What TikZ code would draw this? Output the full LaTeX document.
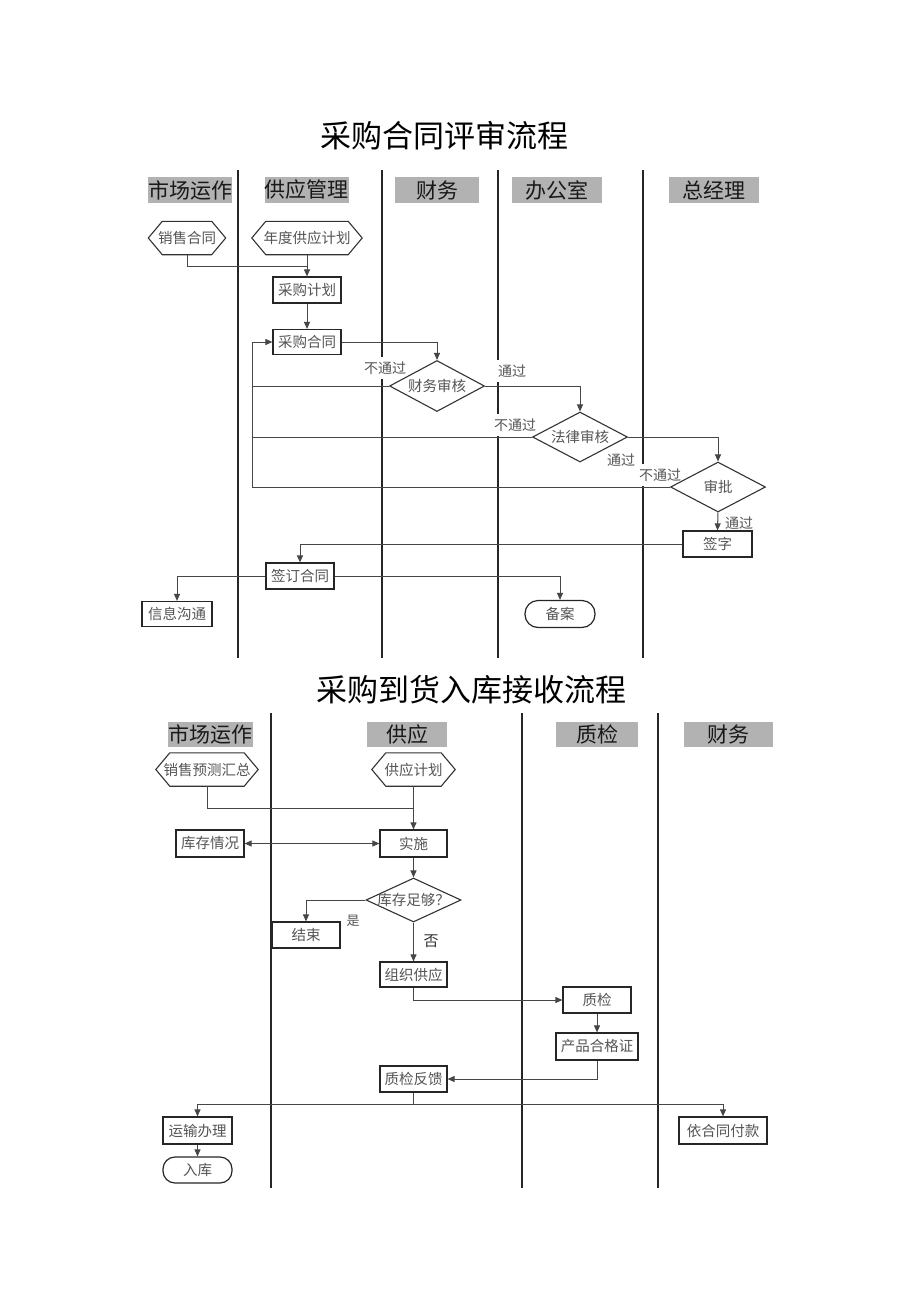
\documentclass[tikz,border=0pt]{standalone}
\usepackage{fontspec}
\setmainfont{Noto Sans CJK SC}
\usetikzlibrary{arrows.meta,shapes.geometric}
\definecolor{hdrgray}{RGB}{178,178,178}
\definecolor{txtgray}{RGB}{85,85,85}
\definecolor{linegray}{RGB}{70,70,70}
\newcommand{\hexfr}[1]{\draw[hexline] (#1.west) -- ([xshift=14pt]#1.north west) -- ([xshift=-14pt]#1.north east) -- (#1.east) -- ([xshift=-14pt]#1.south east) -- ([xshift=14pt]#1.south west) -- cycle;}
\tikzset{
  title/.style={font=\fontsize{31}{36}\selectfont, text=black},
  hdr/.style={fill=hdrgray, inner sep=0pt, minimum height=26pt, font=\fontsize{21}{24}\selectfont, text=black!90},
  lane/.style={line width=1.2pt, black!85},
  box/.style={draw=black!85, line width=1.2pt, fill=white, inner sep=0pt, minimum height=26pt, font=\fontsize{14.5}{17}\selectfont, text=txtgray},
  rbox/.style={box, rounded corners=12pt},
  hexa/.style={draw=none, fill=none, inner sep=0pt, minimum height=33pt, font=\fontsize{14.5}{17}\selectfont, text=txtgray},
  hexline/.style={draw=black!80, line width=1.1pt},
  dia/.style={diamond, draw=black!80, line width=1.1pt, fill=white, inner sep=0pt, aspect=1.9},
  dtext/.style={font=\fontsize{14.5}{17}\selectfont, text=txtgray, inner sep=0pt},
  lbl/.style={fill=white, inner xsep=1pt, inner ysep=5pt, font=\fontsize{14}{16}\selectfont, text=txtgray},
  line/.style={draw=linegray, line width=1pt},
  arr/.style={line, -{Triangle[length=7pt,width=6pt]}},
  darr/.style={line, {Triangle[length=7pt,width=6pt]}-{Triangle[length=7pt,width=6pt]}},
}
\begin{document}
\begin{tikzpicture}[x=1pt,y=-1pt]
\useasboundingbox[fill=white] (0,0) rectangle (920,1302);

% ================= Top diagram =================
\node[title] (t1) at (444,136) {采购合同评审流程};
\draw[lane] (238,170) -- (238,658);
\draw[lane] (382,170) -- (382,658);
\draw[lane] (498,170) -- (498,658);
\draw[lane] (643,170) -- (643,658);

\node[hdr, minimum width=84pt] (h1) at (190,190) {市场运作};
\node[hdr, minimum width=83pt] (h2) at (306.5,190) {供应管理};
\node[hdr, minimum width=84pt] (h3) at (437,190) {财务};
\node[hdr, minimum width=90pt] (h4) at (557,190) {办公室};
\node[hdr, minimum width=90pt] (h5) at (714,190) {总经理};

% labels (white background over lanes)
\node[lbl] (l1) at (385,368) {不通过};
\node[lbl] (l2) at (512,371) {通过};
\node[lbl] (l3) at (515,425) {不通过};
\node[lbl] (l4) at (621,460) {通过};
\node[lbl] (l5) at (660,475) {不通过};
\node[lbl] (l6) at (739,523) {通过};

\node[hexa, minimum width=77pt] (x1) at (187,238) {销售合同};
\hexfr{x1}
\node[hexa, minimum width=110pt] (x2) at (307,238) {年度供应计划};
\hexfr{x2}
\node[box, minimum width=68pt] (b1) at (307,290) {采购计划};
\node[box, minimum width=68pt, minimum height=25pt] (b2) at (307,342) {采购合同};
\node[dia, minimum width=95pt, minimum height=51pt, label={[dtext]center:财务审核}] (d1) at (437,386) {};
\node[dia, minimum width=95pt, minimum height=50pt, label={[dtext]center:法律审核}] (d2) at (580,437) {};
\node[dia, minimum width=95pt, minimum height=50pt, label={[dtext]center:审批}] (d3) at (718,487) {};
\node[box, minimum width=69pt] (b3) at (717.5,544) {签字};
\node[box, minimum width=68pt] (b4) at (300,576) {签订合同};
\node[box, minimum width=70pt, minimum height=25pt] (b5) at (177,614) {信息沟通};
\node[rbox, minimum width=70pt, minimum height=27pt, rounded corners=13pt] (e1) at (560,614) {备案};

\coordinate (j1) at (307,266);
\coordinate (k1) at (252,386);
\draw[line] (x1.south) |- (j1);
\draw[arr] (x2.south) -- (b1.north);
\draw[arr] (b1.south) -- (b2.north);
\draw[arr] (b2.east) -| (d1.north);
\draw[arr] (d1.west) -- (k1) |- (b2.west);
\draw[line] (d2.west) -| (k1);
\draw[line] (d3.west) -| (k1);
\draw[arr] (d1.east) -| (d2.north);
\draw[arr] (d2.east) -| (d3.north);
\draw[arr] (d3.south) -- (b3.north);
\draw[arr] (b3.west) -| (b4.north);
\draw[arr] (b4.west) -| (b5.north);
\draw[arr] (b4.east) -| (e1.north);

% ================= Bottom diagram =================
\node[title] (t2) at (471,690) {采购到货入库接收流程};
\draw[lane] (271,713) -- (271,1188);
\draw[lane] (522,713) -- (522,1188);
\draw[lane] (658,713) -- (658,1188);

\node[hdr, minimum width=85pt, minimum height=25pt] (g1) at (210.5,734.5) {市场运作};
\node[hdr, minimum width=80pt, minimum height=25pt] (g2) at (407,734.5) {供应};
\node[hdr, minimum width=82pt, minimum height=25pt] (g3) at (597,734.5) {质检};
\node[hdr, minimum width=89pt, minimum height=25pt] (g4) at (728.5,734.5) {财务};

\node[hexa, minimum width=102pt] (x3) at (207,769.5) {销售预测汇总};
\hexfr{x3}
\node[hexa, minimum width=83pt] (x4) at (413.5,769.5) {供应计划};
\hexfr{x4}
\node[box, minimum width=67pt, minimum height=27pt] (c1) at (413.5,843.5) {实施};
\node[box, minimum width=68pt, minimum height=27pt] (c2) at (210,843.5) {库存情况};
\node[dia, minimum width=95pt, minimum height=44pt, aspect=2.2, label={[dtext]center:库存足够？}] (d4) at (413.5,900) {};
\node[box, minimum width=68pt] (c3) at (306,935) {结束};
\node[box, minimum width=67pt, minimum height=25pt] (c4) at (413.5,974.5) {组织供应};
\node[box, minimum width=68pt] (c5) at (597,1000) {质检};
\node[box, minimum width=82pt, minimum height=27pt] (c6) at (597,1046.5) {产品合格证};
\node[box, minimum width=67pt] (c7) at (413.5,1079) {质检反馈};
\node[box, minimum width=69pt, minimum height=27pt] (c8) at (197.5,1130.5) {运输办理};
\node[box, minimum width=88pt, minimum height=27pt] (c9) at (723,1130.5) {依合同付款};
\node[rbox, minimum width=69pt, minimum height=26pt, rounded corners=12pt] (c10) at (197.5,1170) {入库};

\node[lbl, fill=none, font=\fontsize{13}{15}\selectfont] (l7) at (353,921) {是};
\node[lbl, fill=none, font=\fontsize{15}{17}\selectfont, text=black!80] (l8) at (431,941) {否};

\coordinate (j2) at (413.5,808);
\coordinate (j3) at (413.5,1104);
\draw[line] (x3.south) |- (j2);
\draw[arr] (x4.south) -- (c1.north);
\draw[darr] (c2.east) -- (c1.west);
\draw[arr] (c1.south) -- (d4.north);
\draw[arr] (d4.west) -| (c3.north);
\draw[arr] (d4.south) -- (c4.north);
\draw[arr] (c4.south) |- (c5.west);
\draw[arr] (c5.south) -- (c6.north);
\draw[arr] (c6.south) |- (c7.east);
\draw[line] (c7.south) -- (j3);
\draw[arr] (j3) -| (c8.north);
\draw[arr] (j3) -| (c9.north);
\draw[arr] (c8.south) -- (c10.north);
\end{tikzpicture}
\end{document}
